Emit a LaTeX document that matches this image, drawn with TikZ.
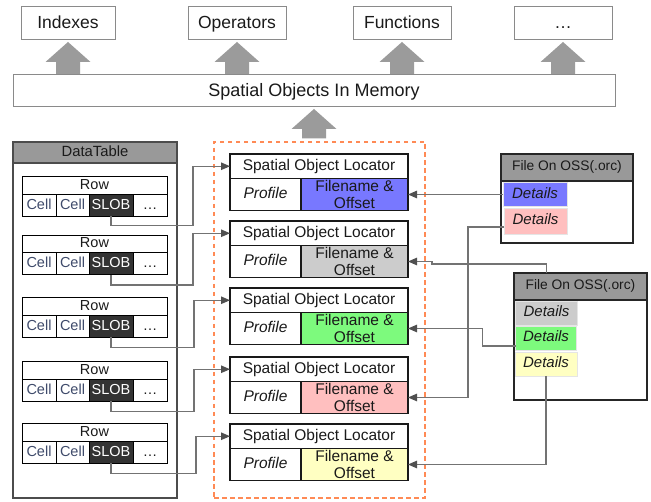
\documentclass[tikz,border=0pt]{standalone}
\usepackage{fontspec}
\setmainfont{Liberation Sans}
\usetikzlibrary{arrows.meta,calc}

\definecolor{boxgray}{HTML}{8A8A8A}
\definecolor{hdrgray}{HTML}{999999}
\definecolor{arrowgray}{HTML}{9B9B9B}
\definecolor{linegray}{HTML}{737373}
\definecolor{tipgray}{HTML}{505050}
\definecolor{dashorange}{HTML}{FF8A55}
\definecolor{cellblue}{HTML}{3F4B6B}
\definecolor{slobfill}{HTML}{333333}
\definecolor{fblue}{HTML}{7878FF}
\definecolor{fgray}{HTML}{CCCCCC}
\definecolor{fgreen}{HTML}{7DFA7D}
\definecolor{fpink}{HTML}{FFBFBF}
\definecolor{fyellow}{HTML}{FFFFC2}
\definecolor{ink}{HTML}{1A1A1A}

\tikzset{
  box/.style={draw, rectangle, inner sep=0pt, outer sep=0pt, align=center, text=ink},
  topbox/.style={box, draw=boxgray, line width=0.9pt, fill=white,
    minimum width=98pt, minimum height=33pt,
    text height=12.6pt, text depth=0pt,
    font=\fontsize{17.5}{20}\selectfont},
  membox/.style={box, draw=boxgray, line width=0.9pt, fill=white,
    minimum width=602pt, minimum height=32pt,
    text height=13pt, text depth=0pt,
    font=\fontsize{18}{21}\selectfont},
  tablebox/.style={box, draw=black!70, line width=1.2pt, fill=white},
  tablehead/.style={box, draw=black!70, line width=1.2pt, fill=hdrgray,
    text height=10.5pt, text depth=3pt,
    font=\fontsize{14.8}{17}\selectfont},
  rowhead/.style={box, draw=black, line width=1pt, fill=white,
    minimum width=145pt, minimum height=17.5pt,
    text height=10.5pt, text depth=3pt,
    font=\fontsize{14.5}{17}\selectfont},
  cellbox/.style={box, draw=black, line width=1pt, fill=white,
    minimum height=22pt, text height=10.5pt, text depth=3pt,
    font=\fontsize{14.5}{17}\selectfont},
  loctitle/.style={box, draw=black!90, line width=1.2pt, fill=white,
    minimum width=178pt, minimum height=24.5pt,
    text height=11pt, text depth=3.2pt,
    font=\fontsize{15.5}{17}\selectfont},
  locprof/.style={box, draw=black!90, line width=1.2pt, fill=white,
    minimum width=71pt, minimum height=32pt,
    text height=11pt, text depth=3.2pt,
    font=\fontsize{15.5}{17}\selectfont\itshape},
  locfile/.style={box, draw=black!90, line width=1.2pt,
    minimum width=107pt, minimum height=32pt,
    font=\fontsize{15.5}{16.5}\selectfont},
  ossbox/.style={box, draw=black!85, line width=1.2pt, fill=white},
  osshead/.style={box, draw=black!85, line width=1.2pt, fill=hdrgray,
    minimum height=27pt, text height=10pt, text depth=3pt,
    font=\fontsize{13.8}{16}\selectfont},
  detail/.style={box, draw=black!10, line width=0.8pt,
    minimum height=24pt, text height=10.5pt, text depth=3pt,
    font=\fontsize{15}{17}\selectfont\itshape},
  conn/.style={draw=linegray, line width=1.1pt,
    -{Triangle[length=9pt,width=7.5pt,color=tipgray]}},
  memframe/.style={draw=dashorange, line width=1.3pt,
    dash pattern=on 4.5pt off 3.5pt, rectangle, inner sep=0pt}
}

% fat upward arrow: #1 = foot of the shaft, #2 = box it points at
\newcommand\bigup[2]{%
  \fill[fill=arrowgray] let \p1=#1, \p2=#2 in
    (\x1-12pt,\y1) -- (\x1-12pt,\y2-23pt) -- (\x1-22.5pt,\y2-23pt)
    -- (\x1,\y2-3pt) -- (\x1+22.5pt,\y2-23pt) -- (\x1+12pt,\y2-23pt)
    -- (\x1+12pt,\y1) -- cycle;}

% one table row: #1 = name prefix, #2 = top edge
\newcommand\dtrow[2]{%
  \node[rowhead] (#1h) at (94.5,#2+8.75) {Row};
  \node[cellbox, minimum width=34pt, text=cellblue] (#1a) at (39,#2+28.5) {Cell};
  \node[cellbox, minimum width=33pt, text=cellblue] (#1b) at (72.5,#2+28.5) {Cell};
  \node[cellbox, minimum width=44pt, fill=slobfill, text=white] (#1s) at (111,#2+28.5) {SLOB};
  \node[cellbox, minimum width=34pt] (#1d) at (150,#2+28.5) {\ldots};
}

% one locator: #1 = name prefix, #2 = top edge, #3 = fill of the offset cell
\newcommand\locator[3]{%
  \node[loctitle] (#1t) at (319,#2+12.25) {Spatial Object Locator};
  \node[locprof] (#1p) at (265.5,#2+40.5) {Profile};
  \node[locfile, fill=#3] (#1f) at (354.5,#2+40.5) {Filename \&\\Offset};
}

\begin{document}
\begin{tikzpicture}[x=1pt,y=-1pt]
\useasboundingbox[fill=white] (0,0) rectangle (651,502);

% consumers
\node[topbox, minimum width=94pt] (idx) at (68,22.5) {Indexes};
\node[topbox] (ops) at (237,22.5) {Operators};
\node[topbox] (fun) at (402,22.5) {Functions};
\node[topbox] (more) at (563,22.5) {\ldots};

\node[membox] (spatial) at (314,90) {Spatial Objects In Memory};

\bigup{(spatial.north -| idx.south)}{(idx.south)}
\bigup{(spatial.north -| ops.south)}{(ops.south)}
\bigup{(spatial.north -| fun.south)}{(fun.south)}
\bigup{(spatial.north -| more.south)}{(more.south)}

% locator group
\node[memframe, minimum width=211pt, minimum height=356pt] (mem) at (319.5,320) {};
\bigup{($(mem.north -| spatial.south)+(0,-3)$)}{(spatial.south)}

% data table
\node[tablebox, minimum width=164pt, minimum height=356pt] (dt) at (95,320) {};
\node[tablehead, minimum width=164pt, minimum height=21pt] (dth) at (95,152.5) {DataTable};

\dtrow{ra}{177}
\dtrow{rb}{235.5}
\dtrow{rc}{298}
\dtrow{rd}{362}
\dtrow{re}{424}

\locator{la}{154}{fblue}
\locator{lb}{221}{fgray}
\locator{lc}{288}{fgreen}
\locator{ld}{357}{fpink}
\locator{le}{424}{fyellow}

% files on object storage
\node[ossbox, minimum width=132pt, minimum height=89pt] (ossa) at (567,198.5) {};
\node[osshead, minimum width=132pt] (ossah) at (567,167.5) {File On OSS(.orc)};
\node[detail, minimum width=64pt, fill=fblue] (dblue) at (535,194.5) {Details};
\node[detail, minimum width=63pt, minimum height=26pt, fill=fpink] (dpink) at (535.5,221) {Details};

\node[ossbox, minimum width=133pt, minimum height=127pt] (ossb) at (580.5,336.5) {};
\node[osshead, minimum width=133pt] (ossbh) at (580.5,286.5) {File On OSS(.orc)};
\node[detail, minimum width=62pt, fill=fgray] (dgray) at (546.5,313) {Details};
\node[detail, minimum width=61pt, fill=fgreen] (dgreen) at (546,338) {Details};
\node[detail, minimum width=62pt, fill=fyellow] (dyellow) at (546,364) {Details};

% rows to locators
\draw[conn] (ras.south) -- ++(0,9) -| ($(lat.west)+(-37,0)$) -- (lat.west);
\draw[conn] (rbs.south) -- ++(0,10) -| ($(lbt.west)+(-37,0)$) -- (lbt.west);
\draw[conn] (rcs.south) -- ++(0,10) -| ($(lct.west)+(-36,0)$) -- (lct.west);
\draw[conn] (rds.south) -- ++(0,10) -| ($(ldt.west)+(-36,0)$) -- (ldt.west);
\draw[conn] (res.south) -- ++(0,10) -| ($(let.west)+(-34,0)$) -- (let.west);

% details to locators
\draw[conn] (dblue.west) -- (laf.east);
\draw[conn] ($(dpink.west)+(0,6)$) -- ++(-36,0) |- (ldf.east);
\draw[conn] (dgray.north |- ossb.north) -- ++(0,-9) -- ++(-114.5,0) |- (lbf.east);
\draw[conn] ($(dgreen.west)+(0,8)$) -- ++(-33,0) |- (lcf.east);
\draw[conn] (dyellow.south) |- (lef.east);
\end{tikzpicture}
\end{document}
